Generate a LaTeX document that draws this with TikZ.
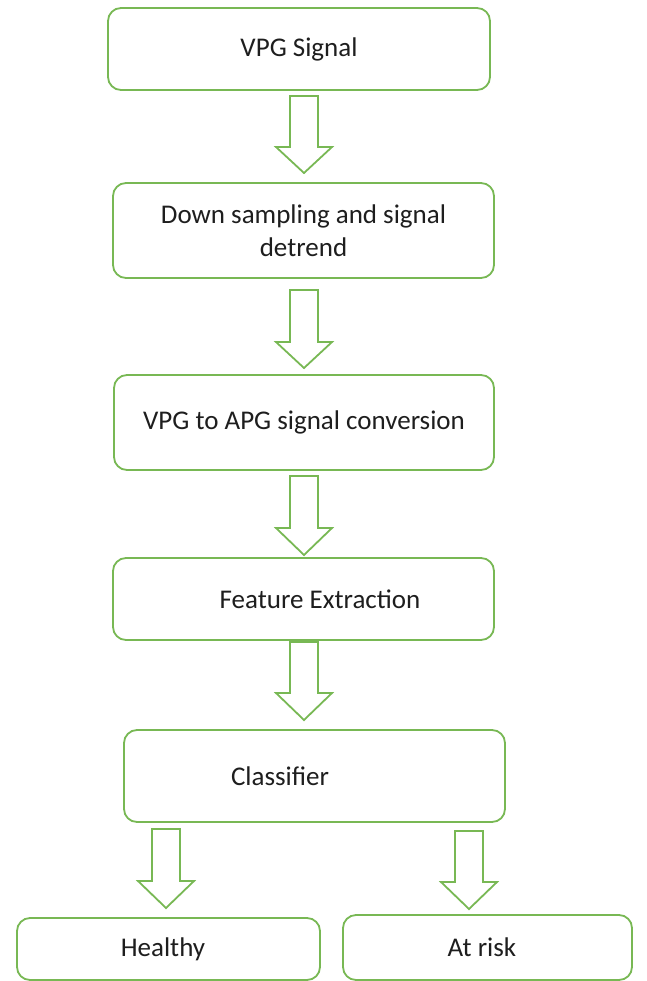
\documentclass[tikz,border=0pt]{standalone}
\usepackage{fontspec}
\setmainfont{Carlito}
\definecolor{boxgreen}{RGB}{120,184,84}
\definecolor{inkgray}{RGB}{30,30,30}
\begin{document}
\begin{tikzpicture}[x=1pt,y=-1pt,
  stepbox/.style={draw=boxgreen, line width=1.8pt, rounded corners=13pt,
    fill=white, inner sep=0pt, align=center, text=inkgray,
    font=\fontsize{27}{33}\selectfont},
  arr/.style={draw=boxgreen, line width=1.8pt, line join=miter, fill=white}]
\useasboundingbox (0,0) rectangle (646,981);

% process boxes
\node[stepbox, minimum width=382pt, minimum height=82pt] (b1) at (299,49) {VPG Signal};
\node[stepbox, minimum width=381pt, minimum height=95pt] (b2) at (303.5,230.5)
  {Down sampling and signal\\detrend};
\node[stepbox, minimum width=380pt, minimum height=95pt] (b3) at (304,422.5)
  {VPG to APG signal conversion};
\node[stepbox, minimum width=381pt, minimum height=82pt] (b4) at (303.5,599)
  {\hspace*{33pt}Feature Extraction};
\node[stepbox, minimum width=381pt, minimum height=92pt] (b5) at (314.5,776)
  {Classifier\hspace*{69pt}};
\node[stepbox, minimum width=303pt, minimum height=62pt] (b6) at (168.5,949)
  {Healthy\hspace*{11pt}};
\node[stepbox, minimum width=289pt, minimum height=65pt] (b7) at (487.5,947.5)
  {At risk\hspace*{11pt}};

% hollow block arrows: centre x, shaft top, head base, tip
\newcommand\blockarrow[4]{%
  \draw[arr] (#1-14,#2) -- (#1+14,#2) -- (#1+14,#3) -- (#1+28,#3)
    -- (#1,#4) -- (#1-28,#3) -- (#1-14,#3) -- cycle;}
\blockarrow{304}{96}{147}{173}
\blockarrow{304}{290}{342}{368}
\blockarrow{304}{476}{528}{555}
\blockarrow{304}{642}{693}{720}
\blockarrow{166}{829}{881}{908}
\blockarrow{469}{831}{882}{909}
\end{tikzpicture}
\end{document}
